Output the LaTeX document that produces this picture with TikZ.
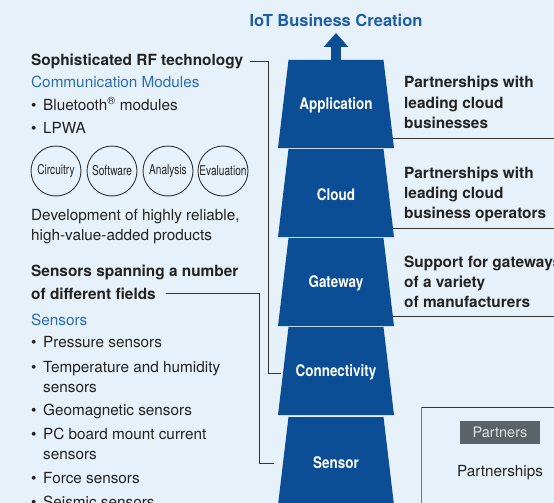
\documentclass[tikz,border=0pt]{standalone}
\usepackage{fontspec}
\setmainfont{TeX Gyre Heros}
\newfontfamily\condf[FakeStretch=0.84]{TeX Gyre Heros}
\newfontfamily\narrowf[FakeStretch=0.75]{TeX Gyre Heros}
\usetikzlibrary{arrows.meta,calc}
\definecolor{bgc}{HTML}{E7F1FA}
\definecolor{navy}{HTML}{0B4E96}
\definecolor{ttl}{HTML}{1D5EA6}
\definecolor{subc}{HTML}{2A6CB4}
\definecolor{txt}{HTML}{222222}
\definecolor{lnc}{HTML}{333333}
\definecolor{tagc}{HTML}{5A6368}
\newcommand\mybul{\makebox[12pt][l]{•}}
\newcommand\mylayer[3]{%
  \coordinate (#1c) at (336,#2);
  \fill[navy] ($(#1c)+(-47.5,-44)$) -- ($(#1c)+(47.5,-44)$) -- ($(#1c)+(58,44)$) -- ($(#1c)+(-58,44)$) -- cycle;
  \node[layer] (#1) at (#1c) {#3};}
\begin{document}
\begin{tikzpicture}[x=1pt,y=-1pt,
  layer/.style={rectangle, minimum width=116pt, minimum height=88pt, inner sep=0pt,
    text=white, font=\condf\bfseries\fontsize{16}{18}\selectfont, yshift=-1.5pt},
  lt/.style={anchor=base west, inner sep=0pt, text=txt, font=\fontsize{15.3}{18}\selectfont},
  hd/.style={lt, font=\bfseries\fontsize{15.4}{18}\selectfont},
  bl/.style={lt, text=subc},
  circ/.style={circle, draw=lnc, line width=0.9pt, minimum size=50pt, inner sep=0pt,
    font=\narrowf\fontsize{13.5}{15}\selectfont, text=txt},
  conn/.style={draw=lnc, line width=0.9pt},
]
\useasboundingbox (0,0) rectangle (554,503);
\fill[bgc] (0,0) rectangle (554,503);

% title and arrow
\node[font=\bfseries\fontsize{16.5}{18}\selectfont, text=ttl, anchor=base, inner sep=0pt] (title) at (336,27) {IoT Business Creation};
\coordinate (tip) at (336,33);

% layers
\mylayer{app}{104}{Application}
\mylayer{cloud}{193}{Cloud}
\mylayer{gw}{282}{Gateway}
\mylayer{cn}{371}{Connectivity}
\mylayer{sens}{461}{Sensor}
\coordinate (shaft) at (336,60);
\draw[navy, line width=10pt, -{Triangle[length=14pt,width=24pt]}] (shaft) -- (tip);

% right side lines
\coordinate (R) at (560,0);
\coordinate (a1) at ($(appc)+(56.8,34)$);
\coordinate (a2) at ($(cloudc)+(56.8,35)$);
\coordinate (a3) at ($(gwc)+(56.8,34)$);
\draw[conn] (a1) -- (a1 -| R);
\draw[conn] (a2) -- (a2 -| R);
\draw[conn] (a3) -- (a3 -| R);

% right texts
\node[hd] (r1a) at (404,88) {Partnerships with};
\node[hd] (r1b) at (404,108) {leading cloud};
\node[hd] (r1c) at (404,128) {businesses};
\node[hd] (r2a) at (404,178) {Partnerships with};
\node[hd] (r2b) at (404,198) {leading cloud};
\node[hd] (r2c) at (404,218) {business operators};
\node[hd] (r3a) at (404,267) {Support for gateways};
\node[hd] (r3b) at (404,287) {of a variety};
\node[hd] (r3c) at (404,307) {of manufacturers};

% partners box
\coordinate (pb) at (421,407);
\coordinate (B) at (0,510);
\draw[draw=lnc, line width=0.9pt] (pb) -- (pb -| R);
\draw[draw=gray!90!black, line width=0.9pt] (pb) -- (pb |- B);
\node[fill=tagc, text=white!88!black, minimum width=80pt, minimum height=23pt, inner sep=0pt,
  font=\fontsize{14.5}{16}\selectfont] (ptag) at (500,432.5) {Partners};
\node[font=\fontsize{15.3}{18}\selectfont, text=txt, anchor=base, inner sep=0pt] (pship) at (500,476) {Partnerships};

% left texts
\node[hd] (rf) at (31,66) {Sophisticated RF technology};
\node[bl] (cm) at (31,87) {Communication Modules};
\node[lt] (bt) at (31,110) {\mybul Bluetooth\textsuperscript{®} modules};
\node[lt] (lp) at (31,133) {\mybul LPWA};
\node[circ] (c1) at (56,171) {Circuitry};
\node[circ] (c2) at (112,171) {Software};
\node[circ] (c3) at (168,171) {Analysis};
\node[circ] (c4) at (223,171) {Evaluation};
\node[lt] (dev1) at (31,220) {Development of highly reliable,};
\node[lt] (dev2) at (31,240) {high-value-added products};
\node[hd] (sp1) at (31,276) {Sensors spanning a number};
\node[hd] (sp2) at (31,299) {of different fields};
\node[bl] (sn) at (31,325) {Sensors};
\node[lt] (s1) at (31,347) {\mybul Pressure sensors};
\node[lt] (s2) at (31,372) {\mybul Temperature and humidity};
\node[lt] (s2b) at (43,392) {sensors};
\node[lt] (s3) at (31,415) {\mybul Geomagnetic sensors};
\node[lt] (s4) at (31,439) {\mybul PC board mount current};
\node[lt] (s4b) at (43,459) {sensors};
\node[lt] (s5) at (31,483) {\mybul Force sensors};
\node[lt] (s6) at (31,507) {\mybul Seismic sensors};

% connectors
\coordinate (v1) at (268,0);
\coordinate (v2) at (259,0);
\coordinate (k1) at ([xshift=7pt]rf.east);
\coordinate (k2) at ([xshift=10pt]sp2.east);
\draw[conn] (k1) -- (k1 -| v1) |- ([xshift=3pt,yshift=-0.5pt]cn.west);
\draw[conn] (k2) -- (k2 -| v2) |- ([xshift=-4pt,yshift=-1pt]sens.west);
\end{tikzpicture}
\end{document}
